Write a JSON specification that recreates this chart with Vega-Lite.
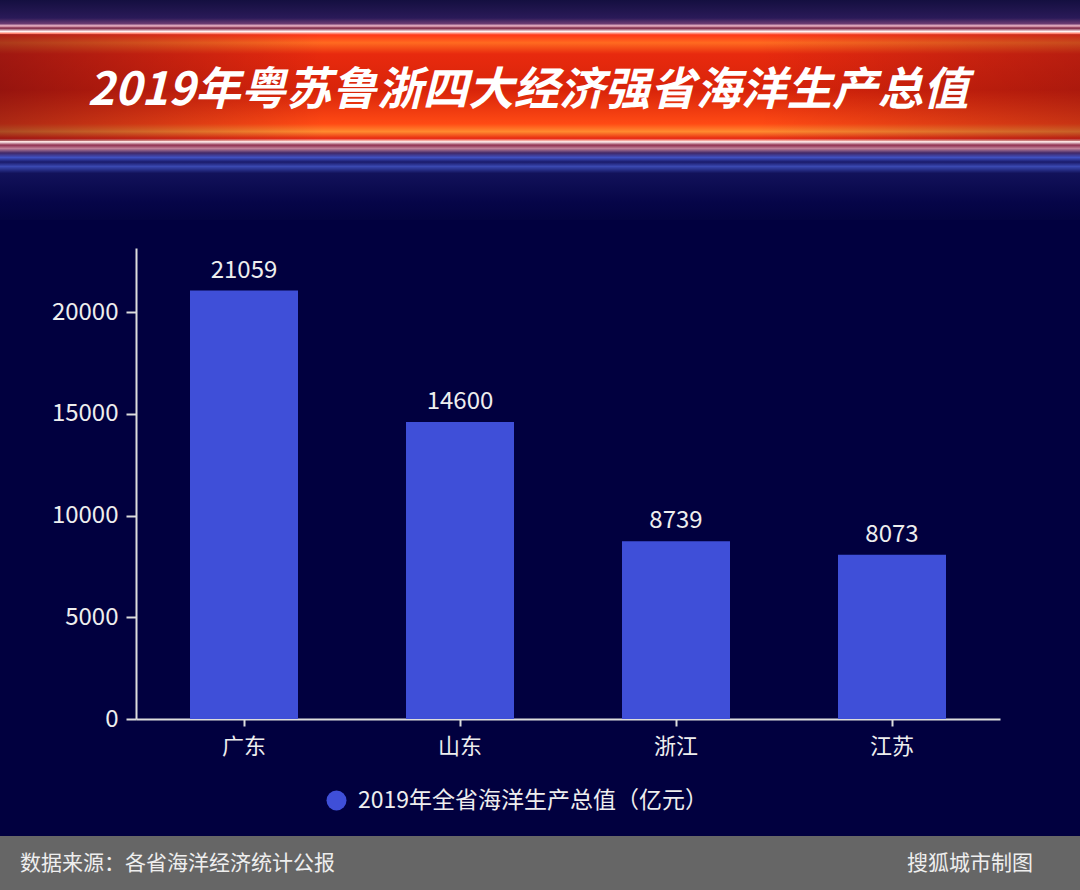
{
  "$schema": "https://vega.github.io/schema/vega-lite/v6.json",
  "background": "#01003f",
  "padding": 0,
  "spacing": 23,
  "resolve": {"legend": {"color": "independent"}, "scale": {"color": "independent"}},
  "config": {
    "view": {"stroke": null},
    "font": "Noto Sans CJK SC",
    "concat": {"spacing": 23}
  },
  "datasets": {
    "header": [{"title": "2019年粤苏鲁浙四大经济强省海洋生产总值"}],
    "main": [
      {"province": "广东", "value": 21059, "series": "2019年全省海洋生产总值（亿元）"},
      {"province": "山东", "value": 14600, "series": "2019年全省海洋生产总值（亿元）"},
      {"province": "浙江", "value": 8739, "series": "2019年全省海洋生产总值（亿元）"},
      {"province": "江苏", "value": 8073, "series": "2019年全省海洋生产总值（亿元）"}
    ],
    "footer": [{"source": "数据来源：各省海洋经济统计公报", "credit": "搜狐城市制图"}]
  },
  "vconcat": [
    {
      "width": 944,
      "height": 225,
      "data": {"name": "header"},
      "layer": [
        {
          "mark": {
            "type": "rect",
            "clip": false,
            "fill": {
              "gradient": "linear",
              "x1": 0, "y1": 0, "x2": 0, "y2": 1,
              "stops": [
                {"offset": 0.0, "color": "#140f40"},
                {"offset": 0.08, "color": "#2a1a58"},
                {"offset": 0.105, "color": "#6a3a70"},
                {"offset": 0.115, "color": "#f0b8c8"},
                {"offset": 0.125, "color": "#7a2040"},
                {"offset": 0.14, "color": "#fff2f2"},
                {"offset": 0.155, "color": "#ff3818"},
                {"offset": 0.19, "color": "#ff6a20"},
                {"offset": 0.24, "color": "#e82a0e"},
                {"offset": 0.40, "color": "#d8240a"},
                {"offset": 0.55, "color": "#ff4a14"},
                {"offset": 0.585, "color": "#ff8a30"},
                {"offset": 0.615, "color": "#e82810"},
                {"offset": 0.63, "color": "#fff0f0"},
                {"offset": 0.645, "color": "#903050"},
                {"offset": 0.66, "color": "#c08098"},
                {"offset": 0.68, "color": "#402868"},
                {"offset": 0.70, "color": "#4050c0"},
                {"offset": 0.72, "color": "#1a1a6a"},
                {"offset": 0.74, "color": "#3a48b0"},
                {"offset": 0.77, "color": "#12125a"},
                {"offset": 0.90, "color": "#060548"},
                {"offset": 0.977, "color": "#030340"},
                {"offset": 0.98, "color": "#01003f"},
                {"offset": 1.0, "color": "#01003f"}
              ]
            }
          },
          "encoding": {
            "x": {"value": -136},
            "x2": {"value": "width"},
            "y": {"value": 0},
            "y2": {"value": "height"}
          }
        },
        {
          "mark": {
            "type": "rect",
            "clip": false,
            "fill": {
              "gradient": "linear",
              "x1": 0, "y1": 0, "x2": 1, "y2": 0,
              "stops": [
                {"offset": 0.0, "color": "rgba(70,0,20,0.45)"},
                {"offset": 0.3, "color": "rgba(70,0,20,0.0)"},
                {"offset": 0.7, "color": "rgba(70,0,20,0.0)"},
                {"offset": 1.0, "color": "rgba(70,0,20,0.3)"}
              ]
            }
          },
          "encoding": {
            "x": {"value": -136},
            "x2": {"value": "width"},
            "y": {"value": 34},
            "y2": {"value": 141}
          }
        },
        {
          "mark": {
            "type": "text",
            "color": "white",
            "fontSize": 45.5,
            "fontStyle": "italic",
            "fontWeight": "bold",
            "dx": -80,
            "dy": -22
          },
          "encoding": {"text": {"field": "title"}}
        }
      ]
    },
    {
      "width": 864,
      "height": 471,
      "data": {"name": "main"},
      "encoding": {
        "x": {
          "field": "province",
          "type": "nominal",
          "sort": null,
          "scale": {"paddingInner": 0.5, "paddingOuter": 0.25},
          "axis": {
            "title": null,
            "labelAngle": 0,
            "labelFontSize": 22,
            "labelColor": "#eeeeee",
            "labelPadding": 10,
            "tickSize": 7,
            "tickWidth": 2,
            "tickColor": "#dddddd",
            "domainColor": "#dddddd",
            "domainWidth": 2
          }
        },
        "y": {
          "field": "value",
          "type": "quantitative",
          "scale": {"domain": [0, 23150], "nice": false},
          "axis": {
            "title": null,
            "values": [0, 5000, 10000, 15000, 20000],
            "format": "d",
            "grid": false,
            "labelFontSize": 24,
            "labelColor": "#eeeeee",
            "labelPadding": 8,
            "tickSize": 10,
            "tickWidth": 2,
            "tickColor": "#dddddd",
            "domainColor": "#dddddd",
            "domainWidth": 2,
            "minExtent": 136
          }
        }
      },
      "layer": [
        {
          "mark": {"type": "bar"},
          "encoding": {
            "color": {
              "field": "series",
              "type": "nominal",
              "scale": {"range": ["#3f4fd8"]},
              "legend": {
                "title": null,
                "orient": "none",
                "legendX": 189,
                "legendY": 541,
                "symbolType": "circle",
                "symbolSize": 400,
                "labelFontSize": 23,
                "labelColor": "#eeeeee",
                "labelLimit": 500,
                "labelOffset": 10
              }
            }
          }
        },
        {
          "mark": {"type": "text", "baseline": "bottom", "dy": -8, "fontSize": 24, "color": "#eeeeee"},
          "encoding": {"text": {"field": "value", "type": "quantitative", "format": "d"}}
        }
      ]
    },
    {
      "width": 944,
      "height": 55,
      "data": {"name": "footer"},
      "layer": [
        {
          "mark": {"type": "rect", "color": "#666666", "clip": false},
          "encoding": {
            "x": {"value": -136},
            "x2": {"value": "width"},
            "y": {"value": 0},
            "y2": {"value": "height"}
          }
        },
        {
          "mark": {"type": "text", "align": "left", "baseline": "middle", "fontSize": 21, "color": "#eeeeee", "dx": 20},
          "encoding": {"x": {"value": -136}, "y": {"value": 28}, "text": {"field": "source"}}
        },
        {
          "mark": {"type": "text", "align": "right", "baseline": "middle", "fontSize": 21, "color": "#eeeeee", "dx": -47},
          "encoding": {"x": {"value": "width"}, "y": {"value": 28}, "text": {"field": "credit"}}
        }
      ]
    }
  ]
}
